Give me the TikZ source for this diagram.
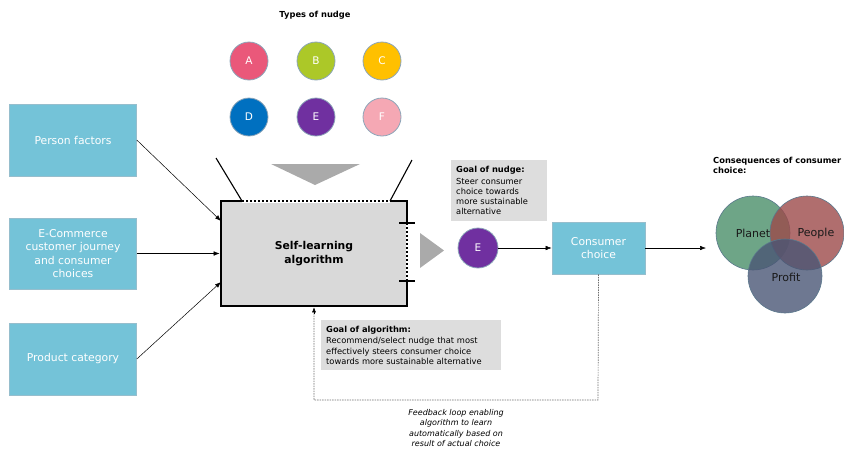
\documentclass[tikz,border=0pt]{standalone}
\usepackage{fontspec}
\setmainfont{DejaVu Sans}
\usetikzlibrary{arrows.meta,calc}
\definecolor{boxblue}{RGB}{116,195,216}
\definecolor{boxedge}{RGB}{150,190,205}
\definecolor{goalgrey}{RGB}{221,221,221}
\definecolor{alggrey}{RGB}{217,217,217}
\definecolor{trigrey}{RGB}{170,170,170}
\definecolor{cA}{RGB}{234,88,122}
\definecolor{cB}{RGB}{172,200,40}
\definecolor{cC}{RGB}{255,192,0}
\definecolor{cD}{RGB}{0,112,192}
\definecolor{cE}{RGB}{112,48,160}
\definecolor{cF}{RGB}{245,168,180}
\definecolor{circedge}{RGB}{140,165,185}
\definecolor{planet}{RGB}{74,142,105}
\definecolor{people}{RGB}{156,74,74}
\definecolor{profit}{RGB}{74,86,117}
\definecolor{vennedge}{RGB}{90,120,140}
\definecolor{loopgrey}{RGB}{110,110,110}
\tikzset{
  inbox/.style={rectangle, fill=boxblue, draw=boxedge, line width=0.6pt, text=white,
    minimum width=127pt, minimum height=72pt, align=center, font=\fontsize{10.8}{13.5}\selectfont},
  nudge/.style={circle, minimum size=38pt, inner sep=0pt, draw=circedge, line width=0.8pt,
    text=white, font=\fontsize{10.5}{12}\selectfont},
  goalbox/.style={rectangle, fill=goalgrey, inner sep=0pt, align=left, anchor=north west,
    font=\fontsize{8.3}{10.2}\selectfont},
  arr/.style={-{Latex[length=6pt,width=4.5pt]}, line width=0.5pt, black},
  venn/.style={circle, minimum size=74pt, inner sep=0pt, draw=vennedge, line width=0.6pt, fill opacity=0.8},
  vlabel/.style={font=\fontsize{11}{13}\selectfont, text=black!90}
}
\begin{document}
\begin{tikzpicture}[x=1pt,y=-1pt]
\useasboundingbox (0,0) rectangle (844,451);

% Types of nudge
\node[font=\bfseries\fontsize{8.3}{10}\selectfont] (title) at (315,15) {Types of nudge};
\node[nudge, fill=cA] (nA) at (249,61) {A};
\node[nudge, fill=cB] (nB) at (316,61) {B};
\node[nudge, fill=cC] (nC) at (382,61) {C};
\node[nudge, fill=cD] (nD) at (249,117) {D};
\node[nudge, fill=cE] (nE) at (316,117) {E};
\node[nudge, fill=cF] (nF) at (382,117) {F};

% input boxes
\node[inbox] (pf) at (73,140) {Person factors};
\node[inbox, minimum height=71pt] (ec) at (73,253.5) {E-Commerce\\customer journey\\and consumer\\choices};
\node[inbox] (pc) at (73,359) {Product category};

% algorithm box
\node[rectangle, fill=alggrey, draw=black, line width=2.6pt, minimum width=186pt, minimum height=105pt,
  align=center, font=\bfseries\fontsize{10.8}{13.5}\selectfont] (alg) at (314,253.5) {Self-learning\\algorithm};
% dotted top segment
\coordinate (t1) at (242,201);
\coordinate (t2) at (390,201);
\draw[white, line width=3pt] (t1) -- (t2);
\draw[black, line width=2.6pt, dash pattern=on 2pt off 2pt] (t1) -- (t2);
% dotted right segment with caps
\coordinate (r1) at (407,223);
\coordinate (r2) at (407,281);
\draw[white, line width=3pt] (r1) -- (r2);
\draw[black, line width=2.6pt, dash pattern=on 2pt off 2pt] (r1) -- (r2);
\draw[black, line width=1.6pt] ($(r1)+(-8,0)$) -- ($(r1)+(8,0)$);
\draw[black, line width=1.6pt] ($(r2)+(-8,0)$) -- ($(r2)+(8,0)$);
% funnel lines
\coordinate (f1) at (216,158);
\coordinate (f2) at (412,160);
\draw[black, line width=1.1pt] (f1) -- (t1);
\draw[black, line width=1.1pt] (f2) -- (t2);
% grey triangles
\fill[trigrey] (271,164) -- (360,164) -- (315,185) -- cycle;
\fill[trigrey] (420,233) -- (444,250.5) -- (420,268) -- cycle;

% input arrows
\coordinate (a1) at (221,221);
\coordinate (a3) at (221,282);
\draw[arr] (pf.east) -- (a1);
\draw[arr] (ec.east) -- (alg.west);
\draw[arr] (pc.east) -- (a3);

% goal of nudge
\node[goalbox, minimum width=95pt, minimum height=61pt, text width=86pt, inner xsep=5pt, inner ysep=4pt] (gn) at (451,160)
  {\textbf{Goal of nudge:}\\[1.5pt]Steer consumer\\choice towards\\more sustainable\\alternative};

% selected nudge E
\node[nudge, fill=cE, minimum size=40pt] (sel) at (478,248) {E};

% consumer choice
\node[inbox, minimum width=93pt, minimum height=52pt] (cc) at (598.5,248) {Consumer\\choice};
\draw[arr] (sel.east) -- (cc.west);
\coordinate (cons) at (706,248);
\draw[arr] (cc.east) -- (cons);

% consequences
\node[anchor=north west, align=left, inner sep=0pt, font=\bfseries\fontsize{8.3}{10}\selectfont] (ctitle) at (713,157)
  {Consequences of consumer\\choice:};
\node[venn, fill=planet] (planet) at (753,233) {};
\node[venn, fill=people] (people) at (807,233) {};
\node[venn, fill=profit] (profit) at (785,276) {};
\node[vlabel] (lplanet) at (753,233) {Planet};
\node[vlabel] (lpeople) at (816,233) {People};
\node[vlabel] (lprofit) at (786,277) {Profit};

% goal of algorithm
\node[goalbox, minimum width=178pt, minimum height=50pt, text width=170pt, inner xsep=5pt, inner ysep=4pt] (ga) at (321,320)
  {\textbf{Goal of algorithm:}\\[1.5pt]Recommend/select nudge that most\\effectively steers consumer choice\\towards more sustainable alternative};

% feedback loop
\coordinate (l1) at (598,400);
\coordinate (l2) at (314,400);
\draw[loopgrey, line width=0.7pt, dash pattern=on 1.5pt off 1pt] (cc.south) -- (l1) -- (l2) -- ($(alg.south)+(0,6)$);
\draw[arr, -{Latex[length=5pt,width=4pt]}] ($(alg.south)+(0,7)$) -- (alg.south);
\node[align=center, font=\itshape\fontsize{8}{10.3}\selectfont] (fb) at (456,428)
  {Feedback loop enabling\\algorithm to learn\\automatically based on\\result of actual choice};
\end{tikzpicture}
\end{document}
